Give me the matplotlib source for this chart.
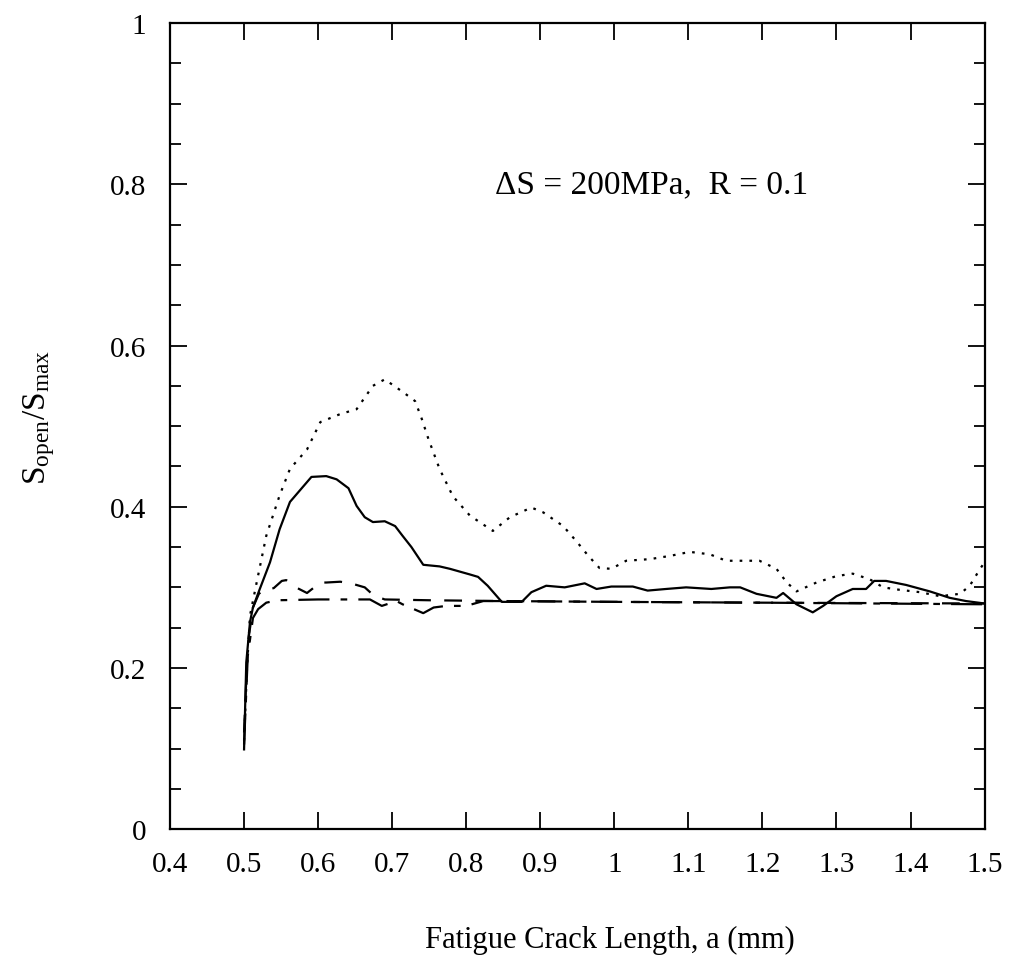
import numpy as np
import matplotlib.pyplot as plt

plt.rcParams['font.family'] = 'Liberation Serif'
plt.rcParams['mathtext.fontset'] = 'custom'
plt.rcParams['mathtext.rm'] = 'Liberation Serif'
plt.rcParams['mathtext.it'] = 'Liberation Serif:italic'

# solid line
a_solid = [0.500, 0.503, 0.508, 0.512, 0.520, 0.535, 0.548, 0.562, 0.591, 0.611, 0.625,
           0.641, 0.652, 0.663, 0.674, 0.690, 0.704, 0.714, 0.726, 0.742, 0.764, 0.778,
           0.805, 0.816, 0.829, 0.848, 0.875, 0.888, 0.908, 0.933, 0.960, 0.976, 0.996,
           1.025, 1.045, 1.070, 1.097, 1.131, 1.156, 1.170, 1.192, 1.219, 1.228, 1.246,
           1.268, 1.282, 1.300, 1.322, 1.340, 1.351, 1.367, 1.394, 1.426, 1.453, 1.475, 1.500]
s_solid = [0.099, 0.207, 0.257, 0.275, 0.295, 0.331, 0.372, 0.406, 0.437, 0.438, 0.434,
           0.423, 0.401, 0.387, 0.381, 0.382, 0.376, 0.364, 0.350, 0.328, 0.326, 0.323,
           0.316, 0.313, 0.302, 0.282, 0.282, 0.294, 0.302, 0.300, 0.305, 0.298, 0.301,
           0.301, 0.296, 0.298, 0.300, 0.298, 0.300, 0.300, 0.292, 0.287, 0.293, 0.279,
           0.269, 0.277, 0.289, 0.298, 0.298, 0.308, 0.308, 0.303, 0.295, 0.287, 0.283, 0.280]

# dotted line
a_dot = [0.500, 0.504, 0.508, 0.517, 0.530, 0.548, 0.562, 0.585, 0.603, 0.630, 0.652,
         0.674, 0.690, 0.715, 0.731, 0.740, 0.749, 0.764, 0.782, 0.805, 0.836, 0.859,
         0.888, 0.904, 0.931, 0.949, 0.965, 0.980, 0.996, 1.016, 1.048, 1.075, 1.102,
         1.129, 1.151, 1.196, 1.219, 1.233, 1.246, 1.273, 1.300, 1.322, 1.345, 1.363,
         1.385, 1.413, 1.440, 1.467, 1.480, 1.494, 1.500]
s_dot = [0.110, 0.200, 0.265, 0.306, 0.364, 0.414, 0.447, 0.471, 0.505, 0.515, 0.521,
         0.550, 0.558, 0.542, 0.531, 0.509, 0.484, 0.447, 0.413, 0.389, 0.370, 0.387,
         0.399, 0.393, 0.376, 0.357, 0.339, 0.324, 0.323, 0.333, 0.335, 0.339, 0.344,
         0.341, 0.333, 0.333, 0.323, 0.306, 0.295, 0.306, 0.314, 0.317, 0.310, 0.300,
         0.297, 0.294, 0.289, 0.292, 0.302, 0.323, 0.331]

# dashed line
a_dash = [0.500, 0.505, 0.512, 0.520, 0.528, 0.540, 0.551, 0.557, 0.570, 0.585, 0.603,
          0.611, 0.630, 0.648, 0.663, 0.675, 0.690, 0.75, 0.85, 1.0, 1.2, 1.5]
s_dash = [0.120, 0.230, 0.275, 0.292, 0.298, 0.299, 0.308, 0.309, 0.300, 0.293, 0.306,
          0.306, 0.307, 0.304, 0.300, 0.290, 0.285, 0.284, 0.283, 0.282, 0.281, 0.280]

# long dash line
a_long = [0.500, 0.505, 0.512, 0.519, 0.530, 0.545, 0.600, 0.670, 0.686, 0.706, 0.714,
          0.742, 0.756, 0.773, 0.800, 0.823, 0.850, 1.0, 1.2, 1.5]
s_long = [0.105, 0.215, 0.262, 0.273, 0.281, 0.284, 0.285, 0.285, 0.277, 0.283, 0.279,
          0.268, 0.275, 0.277, 0.277, 0.283, 0.283, 0.282, 0.281, 0.279]

fig = plt.figure(figsize=(10.15, 9.62), dpi=100)
ax = fig.add_axes([0.1675, 0.137, 0.8025, 0.838])

ax.plot(a_solid, s_solid, c='k', lw=1.6)
ax.plot(a_dot, s_dot, c='k', lw=1.6, ls=(0, (1.2, 3.2)))
ax.plot(a_dash, s_dash, c='k', lw=1.6, ls=(0, (8, 6)))
ax.plot(a_long, s_long, c='k', lw=1.6, ls=(0, (14, 5, 3, 5)))

ax.set_xlim(0.4, 1.5)
ax.set_ylim(0, 1)
ax.set_xticks(np.arange(0.4, 1.51, 0.1))
ax.set_xticklabels(['0.4', '0.5', '0.6', '0.7', '0.8', '0.9', '1', '1.1', '1.2', '1.3', '1.4', '1.5'])
ax.set_yticks([0, 0.2, 0.4, 0.6, 0.8, 1])
ax.set_yticklabels(['0', '0.2', '0.4', '0.6', '0.8', '1'])
ax.set_yticks(np.arange(0, 1.001, 0.05), minor=True)

ax.tick_params(which='both', direction='in', top=True, right=True, width=1.3, labelsize=21)
ax.tick_params(which='major', length=12)
ax.tick_params(which='minor', length=8)
ax.tick_params(axis='x', pad=16)
ax.tick_params(axis='y', pad=17)
for sp in ax.spines.values():
    sp.set_linewidth(1.6)

ax.text(0.839, 0.8, '\u0394S = 200MPa,  R = 0.1', fontsize=24, va='center')

ax.set_xlabel('Fatigue Crack Length, a (mm)', fontsize=22, labelpad=34, x=0.54)
ax.set_ylabel(r'$\mathrm{S_{open}/S_{max}}$', fontsize=24, labelpad=38, y=0.512)

fig.savefig('out.png', dpi=100)
